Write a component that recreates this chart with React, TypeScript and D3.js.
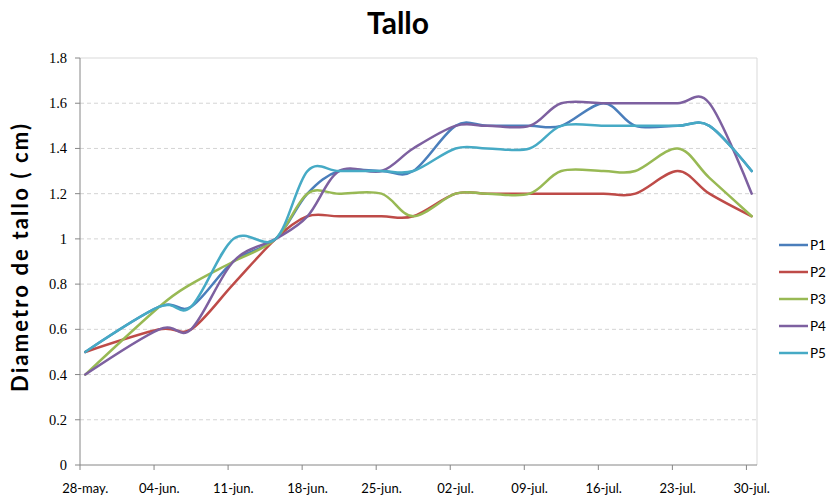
import React from "react";
import * as d3 from "d3";

const W = 830;
const H = 498;

const dates = [
  "2012-05-28", "2012-06-04", "2012-06-07", "2012-06-11", "2012-06-15", "2012-06-18",
  "2012-06-21", "2012-06-25", "2012-06-28", "2012-07-02", "2012-07-05", "2012-07-09",
  "2012-07-12", "2012-07-16", "2012-07-19", "2012-07-23", "2012-07-26", "2012-07-30",
];

const p1 = [0.5, 0.7, 0.7, 0.9, 1.0, 1.2, 1.3, 1.3, 1.3, 1.5, 1.5, 1.5, 1.5, 1.6, 1.5, 1.5, 1.5, 1.3];
const p2 = [0.5, 0.6, 0.6, 0.8, 1.0, 1.1, 1.1, 1.1, 1.1, 1.2, 1.2, 1.2, 1.2, 1.2, 1.2, 1.3, 1.2, 1.1];
const p3 = [0.4, 0.7, 0.8, 0.9, 1.0, 1.2, 1.2, 1.2, 1.1, 1.2, 1.2, 1.2, 1.3, 1.3, 1.3, 1.4, 1.27, 1.1];
const p4 = [0.4, 0.6, 0.6, 0.9, 1.0, 1.1, 1.3, 1.3, 1.4, 1.5, 1.5, 1.5, 1.6, 1.6, 1.6, 1.6, 1.6, 1.2];
const p5 = [0.5, 0.7, 0.7, 1.0, 1.0, 1.3, 1.3, 1.3, 1.3, 1.4, 1.4, 1.4, 1.5, 1.5, 1.5, 1.5, 1.5, 1.3];

const seriesNames = ["P1", "P2", "P3", "P4", "P5"];
const seriesValues = [p1, p2, p3, p4, p5];
const seriesColors = ["#4A7EBB", "#BE4B48", "#98B954", "#7D60A0", "#46AAC5"];

const tickDates = [
  "2012-05-28", "2012-06-04", "2012-06-11", "2012-06-18", "2012-06-25",
  "2012-07-02", "2012-07-09", "2012-07-16", "2012-07-23", "2012-07-30",
];
const tickLabels = [
  "28-may.", "04-jun.", "11-jun.", "18-jun.", "25-jun.",
  "02-jul.", "09-jul.", "16-jul.", "23-jul.", "30-jul.",
];
const yTicks = [0, 0.2, 0.4, 0.6, 0.8, 1, 1.2, 1.4, 1.6, 1.8];

const title = "Tallo";
const yTitle = "Diametro de tallo ( cm)";

const parse = (s: string) => new Date(s + "T00:00:00Z");
const DAY = 86400000;

export default function App() {
  const left = 80, right = 757, top = 58, bottom = 465;
  const x = d3
    .scaleUtc()
    .domain([parse("2012-05-28"), parse("2012-07-31")])
    .range([left, right]);
  const y = d3.scaleLinear().domain([0, 1.8]).range([bottom, top]);
  const mid = (s: string) => new Date(parse(s).getTime() + DAY / 2);

  const line = d3
    .line<[Date, number]>()
    .x((d) => x(d[0]))
    .y((d) => y(d[1]))
    .curve(d3.curveCardinal.tension(0));

  return (
    <svg width={W} height={H} style={{ display: "block", position: "absolute", left: 0, top: 0 }}>
      <rect x={0} y={0} width={W} height={H} fill="#fff" />
      <text x={398} y={34} textAnchor="middle" fontFamily="Lato, 'Open Sans', sans-serif" fontWeight="bold" fontSize={30} fill="#000">
        {title}
      </text>
      {/* gridlines */}
      {yTicks.slice(1, -1).map((t) => (
        <line key={"g" + t} x1={left} x2={right} y1={y(t)} y2={y(t)} stroke="#d4d4d4" strokeWidth={1} strokeDasharray="4,3" />
      ))}
      {/* plot border top & right */}
      <line x1={left} x2={right} y1={y(1.8)} y2={y(1.8)} stroke="#d9d9d9" strokeWidth={1} />
      <line x1={right} x2={right} y1={top} y2={bottom} stroke="#d9d9d9" strokeWidth={1} />
      {/* y axis */}
      <line x1={left} x2={left} y1={top} y2={bottom} stroke="#868686" strokeWidth={1} />
      {yTicks.map((t) => (
        <g key={"y" + t}>
          <line x1={left - 5} x2={left} y1={y(t)} y2={y(t)} stroke="#868686" />
          <text x={67} y={y(t) + 5} textAnchor="end" fontFamily="'Liberation Serif', serif" fontSize={14.5} fill="#000">
            {String(t)}
          </text>
        </g>
      ))}
      {/* x axis */}
      <line x1={left} x2={right} y1={bottom} y2={bottom} stroke="#868686" strokeWidth={1} />
      {tickDates.map((d, i) => (
        <g key={"x" + d}>
          <line x1={x(parse(d))} x2={x(parse(d))} y1={bottom} y2={bottom + 5} stroke="#868686" />
          <text x={x(mid(d))} y={493} textAnchor="middle" fontFamily="Lato, sans-serif" fontSize={13} fill="#000">
            {tickLabels[i]}
          </text>
        </g>
      ))}
      {/* series */}
      {seriesValues.map((vals, si) => (
        <path
          key={seriesNames[si]}
          d={line(vals.map((v, i) => [mid(dates[i]), v] as [Date, number])) || ""}
          fill="none"
          stroke={seriesColors[si]}
          strokeWidth={2.5}
          strokeLinejoin="round"
          strokeLinecap="round"
        />
      ))}
      {/* y title */}
      <text
        transform={`translate(28, 258) rotate(-90)`}
        textAnchor="middle"
        fontFamily="Lato, sans-serif"
        fontWeight="bold"
        fontSize={22}
        textLength={268}
        lengthAdjust="spacing"
        fill="#000"
      >
        {yTitle}
      </text>
      {/* legend */}
      {seriesNames.map((n, i) => (
        <g key={"l" + n}>
          <line x1={779} x2={808} y1={245 + i * 27} y2={245 + i * 27} stroke={seriesColors[i]} strokeWidth={2.5} />
          <text x={810} y={249.5 + i * 27} fontFamily="Lato, sans-serif" fontSize={13.5} fill="#000">
            {n}
          </text>
        </g>
      ))}
    </svg>
  );
}
